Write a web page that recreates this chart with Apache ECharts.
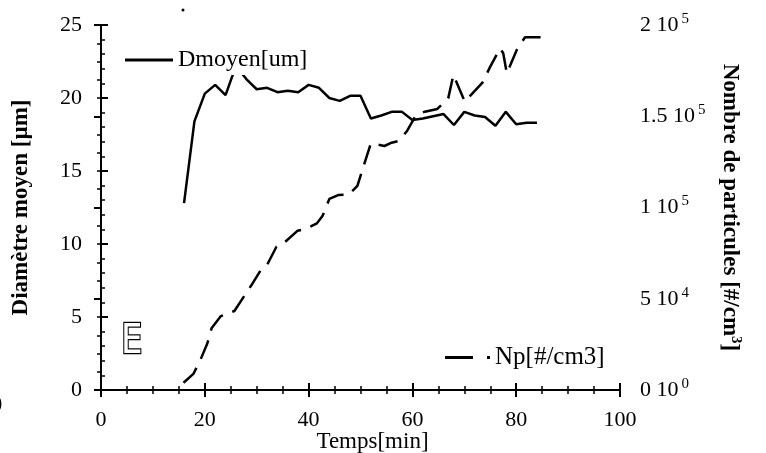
<!DOCTYPE html>
<html>
<head>
<meta charset="utf-8">
<script src="https://cdn.jsdelivr.net/npm/echarts@6/dist/echarts.min.js"></script>
<style>html,body{margin:0;padding:0;background:#fff}#c{width:766px;height:453px}</style>
</head>
<body>
<div id="c"></div>
<script>
// ---- data ----
const dTime = [16,18,20,22,24,26,28,30,32,34,36,38,40,42,44,46,48,50,52,54,56,58,60,62,64,66,68,70,72,74,76,78,80,82,84];
const dValues = [12.8,18.4,20.3,20.9,20.2,22.2,21.3,20.6,20.7,20.4,20.5,20.4,20.9,20.7,20.0,19.8,20.15,20.15,18.6,18.8,19.05,19.05,18.5,18.6,18.75,18.9,18.15,19.05,18.8,18.7,18.1,19.05,18.2,18.3,18.3];
const npTime = [15.9,17.8,19.2,20.5,21.3,23.1,25.7,29.0,31.0,32.0,33.8,35.0,37.9,39.3,41.6,42.7,44.0,45.7,47.8,49.4,50.4,52.0,54.6,56.0,57.5,59.0,60.7,62.4,64.8,66.9,67.9,70.1,73.5,75.0,76.9,77.5,78.2,80.1,81.7,84.7];
const npValues = [4000,8800,16800,25600,33800,40500,43300,57500,66700,68500,78500,80000,87300,88000,91300,95500,104700,106800,107200,111800,120900,135200,133700,135500,136600,142100,150700,152500,154000,159800,172600,158000,168400,177200,187200,184500,173500,186300,193300,193300];
const xTicks = [0,20,40,60,80,100];
const leftTicks = [0,5,10,15,20,25];
const rightTickValues = [0,50000,100000,150000,200000];
const rightTickMantissa = ['0','5','1','1.5','2'];
const rightTickExponent = ['0','4','5','5','5'];
const seriesNames = ['Dmoyen[um]','Np[#/cm3]'];
const xName = 'Temps[min]';
const leftName = 'Diamètre moyen [µm]';
const rightName = 'Nombre de particules [#/cm{s|3}]';

const FONT = '"Liberation Serif", "DejaVu Serif", serif';
const chart = echarts.init(document.getElementById('c'), null, {renderer:'canvas'});

const axisLine = {show:true, lineStyle:{color:'#000', width:2}};
const tick = {show:true, inside:true, length:7, lineStyle:{color:'#000', width:2}};
const minor = (n)=>({show:true, splitNumber:n, length:4, lineStyle:{color:'#000', width:1.5}});

chart.setOption({
  animation:false,
  backgroundColor:'#fff',
  grid:{left:101, right:146, top:25, bottom:63, containLabel:false, outerBoundsMode:'none'},
  legend:[
    {data:[{name:seriesNames[0], icon:'path://M0,0H48V3H0Z'}], left:121, top:44, padding:[4,4,3,4], backgroundColor:'#fff',
     itemWidth:48, itemHeight:3, itemGap:0,
     textStyle:{fontFamily:FONT, fontSize:24, color:'#000'}},
    {data:[{name:seriesNames[1], icon:'path://M0,0H28V3H0Z M42,0H45V3H42Z'}], left:441, top:341, padding:[4,4,4,4], backgroundColor:'#fff',
     itemWidth:45, itemHeight:3, itemGap:0,
     textStyle:{fontFamily:FONT, fontSize:25, color:'#000'}}
  ],
  xAxis:[
    {type:'value', position:'bottom', min:xTicks[0], max:xTicks[xTicks.length-1], interval:20,
     axisLine:axisLine, axisTick:tick, minorTick:minor(4), splitLine:{show:false},
     axisLabel:{margin:19, fontFamily:FONT, fontSize:22, color:'#000'},
     name:xName, nameLocation:'middle', nameGap:40, nameMoveOverlap:false,
     nameTextStyle:{fontFamily:FONT, fontSize:23, color:'#000', padding:[0,0,0,24]}},
    {type:'value', position:'top', min:xTicks[0], max:xTicks[xTicks.length-1], interval:20,
     axisLine:axisLine, axisTick:tick, minorTick:minor(4), splitLine:{show:false},
     axisLabel:{show:false}}
  ],
  yAxis:[
    {type:'value', position:'left', min:leftTicks[0], max:leftTicks[leftTicks.length-1], interval:5,
     axisLine:axisLine, axisTick:tick, minorTick:minor(5), splitLine:{show:false},
     axisLabel:{margin:19, fontFamily:FONT, fontSize:22, color:'#000'},
     name:leftName, nameLocation:'middle', nameGap:68, nameRotate:90, nameMoveOverlap:false,
     nameTextStyle:{fontFamily:FONT, fontSize:23, fontWeight:'bold', color:'#000'}},
    {type:'value', position:'right', min:rightTickValues[0], max:rightTickValues[rightTickValues.length-1], interval:50000,
     axisLine:axisLine, axisTick:tick, minorTick:minor(5), splitLine:{show:false},
     axisLabel:{margin:20, color:'#000',
       formatter:function(v){const i=rightTickValues.indexOf(v); if(i<0) return ''; return '{m|'+rightTickMantissa[i]+' 10}{e|'+rightTickExponent[i]+'}';},
       rich:{m:{fontFamily:FONT, fontSize:22, color:'#000'}, e:{fontFamily:FONT, fontSize:15, color:'#000', padding:[0,0,12,3]}}},
     name:rightName, nameLocation:'middle', nameGap:96, nameRotate:-90, nameMoveOverlap:false,
     nameTextStyle:{fontFamily:FONT, fontSize:23, fontWeight:'bold', color:'#000',
       rich:{s:{fontFamily:FONT, fontSize:15, fontWeight:'bold', color:'#000', padding:[0,0,12,0]}}}}
  ],
  series:[
    {name:seriesNames[0], type:'line', xAxisIndex:0, yAxisIndex:0, symbol:'none',
     lineStyle:{color:'#000', width:2.5}, itemStyle:{color:'#000'},
     data:dTime.map((t,i)=>[t,dValues[i]])},
    {name:seriesNames[1], type:'line', xAxisIndex:0, yAxisIndex:1, symbol:'none',
     lineStyle:{color:'#000', width:2.5, type:[20,10]}, itemStyle:{color:'#000'},
     data:npTime.map((t,i)=>[t,npValues[i]])}
  ],
  graphic:[
    {type:'text', left:120, top:321, scaleX:0.85, style:{text:'E', fontFamily:'"DejaVu Sans", sans-serif', fontSize:40, fill:'#fff', stroke:'#000', lineWidth:2.5}},
    {type:'text', left:-5, top:392, style:{text:')', fontFamily:FONT, fontSize:22, fill:'#000'}},
    {type:'circle', shape:{cx:183, cy:10, r:1.5}, style:{fill:'#000'}}
  ]
});
</script>
</body>
</html>
